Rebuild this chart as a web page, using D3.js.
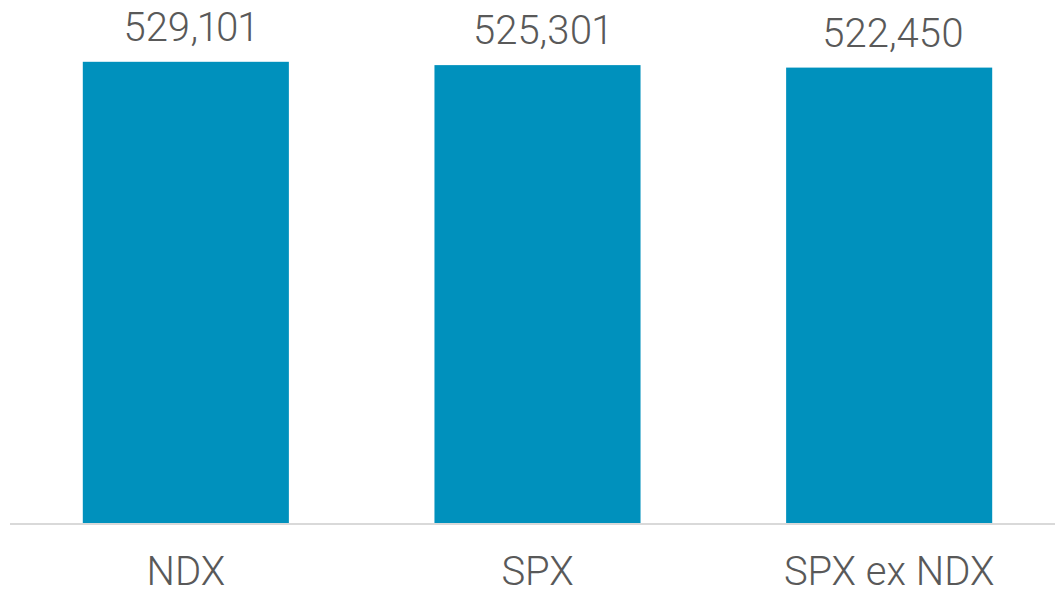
<!DOCTYPE html>
<html>
<head>
<meta charset="utf-8">
<script src="https://cdn.jsdelivr.net/npm/d3@7"></script>
<style>
  body { margin: 0; background: #fff; }
  text { font-family: Roboto, "Noto Sans", sans-serif; font-weight: 300; fill: #595959; font-variant-numeric: proportional-nums; }
</style>
</head>
<body>
<div id="chart"></div>
<script>
var width = 1055;
var height = 589;

// Chart data
var categories = ["NDX", "SPX", "SPX ex NDX"];
var values = [529101, 525301, 522450];

var margin = { left: 10, right: -10, baseline: 523 };

var svg = d3
  .select("#chart")
  .append("svg")
  .attr("width", width)
  .attr("height", height);

var x_Scale = d3
  .scaleBand()
  .domain(categories)
  .range([margin.left, width - margin.right])
  .paddingInner(0.414)
  .paddingOuter(0.207);

var y_Scale = d3
  .scaleLinear()
  .domain([0, 600000])
  .range([margin.baseline, 0]);

// Bars
svg
  .selectAll("rect.bar")
  .data(values)
  .enter()
  .append("rect")
  .attr("class", "bar")
  .attr("x", function (d, i) { return x_Scale(categories[i]); })
  .attr("y", function (d) { return y_Scale(d); })
  .attr("width", x_Scale.bandwidth())
  .attr("height", function (d) { return margin.baseline - y_Scale(d); })
  .attr("fill", "#0091bd");

// Baseline
svg
  .append("line")
  .attr("x1", margin.left)
  .attr("x2", width)
  .attr("y1", margin.baseline + 1)
  .attr("y2", margin.baseline + 1)
  .attr("stroke", "#d9d9d9")
  .attr("stroke-width", 2);

// Value labels
svg
  .selectAll("text.value")
  .data(values)
  .enter()
  .append("text")
  .attr("class", "value")
  .attr("x", function (d, i) { return x_Scale(categories[i]) + x_Scale.bandwidth() / 2 + 4; })
  .attr("y", function (d) { return y_Scale(d) - 21; })
  .attr("text-anchor", "middle")
  .attr("font-size", 40)
  .text(function (d) { return d3.format(",")(d); });

// Category labels
var xAxis = d3.axisBottom(x_Scale).tickSize(0).tickPadding(0);
var gx = svg
  .append("g")
  .attr("transform", "translate(0," + margin.baseline + ")")
  .call(xAxis);
gx.select(".domain").remove();
gx.attr("font-family", null).attr("font-size", null);
gx.selectAll("text")
  .attr("font-size", 40)
  .attr("dy", null)
  .attr("y", 62)
  .style("fill", "#595959");
</script>
</body>
</html>
